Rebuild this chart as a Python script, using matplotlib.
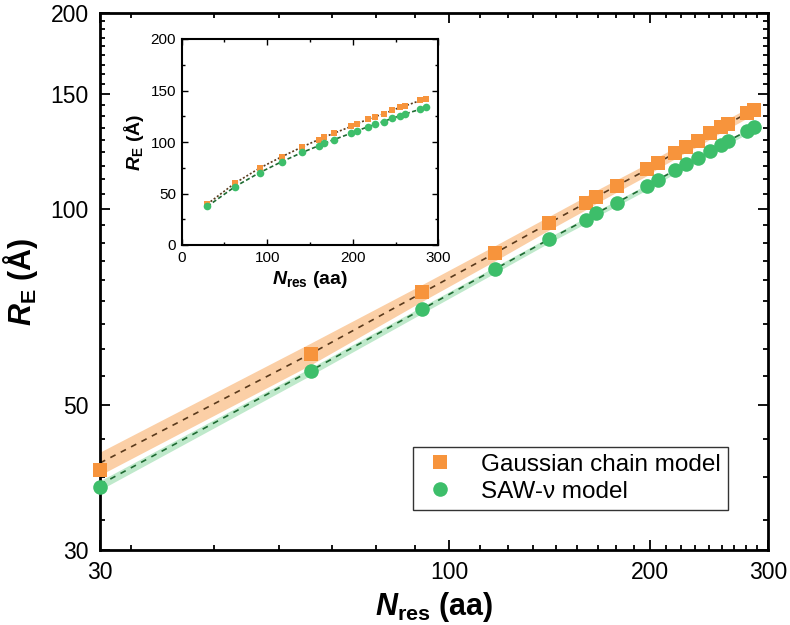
import numpy as np
import matplotlib
matplotlib.use("Agg")
import matplotlib.pyplot as plt
from matplotlib.ticker import FixedLocator, NullFormatter

plt.rcParams['font.family'] = ['Liberation Sans', 'DejaVu Sans']
plt.rcParams['mathtext.fontset'] = 'custom'
plt.rcParams['mathtext.it'] = 'Liberation Sans:italic:bold'
plt.rcParams['mathtext.rm'] = 'Liberation Sans:bold'
plt.rcParams['mathtext.bf'] = 'Liberation Sans:bold'

# data
n_res = [30, 62, 91, 117, 141, 160, 166, 178, 198, 205, 218, 226, 236, 246, 255, 261, 279, 286]
re_gauss = [39.8, 59.9, 74.6, 85.7, 95.3, 102.3, 104.5, 108.5, 115.1, 117.8,
            122.1, 124.7, 127.2, 130.7, 133.5, 135.0, 140.3, 142.0]
re_saw = [37.5, 56.5, 70.2, 80.9, 89.9, 96.3, 98.6, 102.3, 108.5, 110.9,
          114.8, 117.2, 119.9, 122.9, 125.5, 127.2, 131.8, 133.5]
# dashed guide lines and shaded ranges
line_gauss = [40.8, 60.0, 74.4, 85.6, 95.2, 102.2, 104.5, 108.6, 115.1, 117.8,
              122.0, 124.7, 127.3, 130.6, 133.5, 135.2, 140.3, 142.2]
gauss_lo = [39.1, 57.7, 72.2, 83.3, 92.9, 99.8, 102.1, 106.2, 112.7, 115.4,
            119.6, 122.3, 124.9, 128.2, 131.1, 132.8, 137.9, 139.8]
gauss_hi = [42.4, 62.3, 76.6, 87.9, 97.5, 104.6, 106.9, 111.0, 117.5, 120.2,
            124.4, 127.1, 129.7, 133.0, 135.9, 137.6, 142.7, 144.6]
line_saw = [37.8, 56.5, 70.2, 80.9, 89.9, 96.3, 98.6, 102.3, 108.5, 110.9,
            114.8, 117.2, 119.9, 122.9, 125.5, 127.2, 131.8, 133.5]
saw_lo = [37.1, 55.6, 69.2, 79.8, 88.8, 95.1, 97.4, 101.1, 107.2, 109.6,
          113.5, 115.9, 118.6, 121.6, 124.1, 125.8, 130.4, 132.1]
saw_hi = [38.3, 57.1, 70.9, 81.6, 90.6, 97.1, 99.4, 103.1, 109.3, 111.7,
          115.6, 118.0, 120.7, 123.7, 126.3, 128.0, 132.6, 134.3]

c_or = '#f7943c'
c_gr = '#3dbe6a'

fig = plt.figure(figsize=(7.9, 6.25), dpi=100)
ax = fig.add_axes([0.1266, 0.12, 0.8456, 0.8592])

ax.fill_between(n_res, gauss_lo, gauss_hi, color='#fbcfa6', lw=0, zorder=1)
ax.fill_between(n_res, saw_lo, saw_hi, color='#bfe9cb', lw=0, zorder=1)
ax.plot(n_res, line_gauss, ls=(0, (3.5, 3.5)), color='#5a3a1c', lw=1.2, zorder=2)
ax.plot(n_res, line_saw, ls=(0, (3.5, 3.5)), color='#1e6b32', lw=1.2, zorder=2)
ax.plot(n_res, re_gauss, 's', color=c_or, ms=9.5, mew=0, zorder=3, clip_on=False,
        label='Gaussian chain model')
ax.plot(n_res, re_saw, 'o', color=c_gr, ms=10.5, mew=0, zorder=3, clip_on=False,
        label='SAW-ν model')

ax.set_xscale('log')
ax.set_yscale('log')
ax.set_xlim(30, 300)
ax.set_ylim(30, 200)

ax.xaxis.set_major_locator(FixedLocator([30, 100, 200, 300]))
ax.xaxis.set_major_formatter(matplotlib.ticker.FixedFormatter(['30', '100', '200', '300']))
ax.xaxis.set_minor_locator(FixedLocator([k * 100 / 9 for k in range(3, 27) if k % 9]))
ax.xaxis.set_minor_formatter(NullFormatter())
ax.yaxis.set_major_locator(FixedLocator([30, 50, 100, 150, 200]))
ax.yaxis.set_major_formatter(matplotlib.ticker.FixedFormatter(['30', '50', '100', '150', '200']))
ax.yaxis.set_minor_locator(FixedLocator([k * 50 / 9 for k in range(6, 36) if k % 9]))
ax.yaxis.set_minor_formatter(NullFormatter())

ax.tick_params(which='both', direction='in', top=True, right=True, width=1.3, labelsize=16.5)
ax.tick_params(which='major', length=7, pad=8)
ax.tick_params(which='minor', length=3.5)
for s in ax.spines.values():
    s.set_linewidth(2)

ax.set_xlabel(r'$N_{\mathrm{res}}$ (aa)', fontsize=22, fontweight='bold', labelpad=4)
ax.set_ylabel(r'$R_{\mathrm{E}}$ (Å)', fontsize=22, fontweight='bold', labelpad=8)

leg = ax.legend(loc='lower right', bbox_to_anchor=(0.94, 0.0745), borderaxespad=0,
                fontsize=17.5, frameon=True, fancybox=False, handletextpad=0.9,
                borderpad=0.3, labelspacing=0.2, handlelength=1.6)
leg.get_frame().set_edgecolor('black')
leg.get_frame().set_linewidth(1.0)

# inset with linear axes
ins = fig.add_axes([0.230, 0.608, 0.3248, 0.3296])
ins.plot(n_res, re_gauss, ls=(0, (1.2, 1.2)), color='#5a3a1c', lw=1.2, zorder=2)
ins.plot(n_res, re_saw, ls=(0, (2.5, 1.5)), color='#1e6b32', lw=1.2, zorder=2)
ins.plot(n_res, re_gauss, 's', color=c_or, ms=5, mew=0, zorder=3)
ins.plot(n_res, re_saw, 'o', color=c_gr, ms=5.5, mew=0, zorder=3)
ins.set_xlim(0, 300)
ins.set_ylim(0, 200)
ins.set_xticks([0, 100, 200, 300])
ins.set_xticks([50, 150, 250], minor=True)
ins.set_yticks([0, 50, 100, 150, 200])
ins.set_yticks([25, 75, 125, 175], minor=True)
ins.tick_params(which='both', direction='in', top=True, right=True, width=1, labelsize=11)
ins.tick_params(which='major', length=4.5, pad=4)
ins.tick_params(which='minor', length=2.5)
for s in ins.spines.values():
    s.set_linewidth(1.5)
ins.set_xlabel(r'$N_{\mathrm{res}}$ (aa)', fontsize=14, fontweight='bold', labelpad=3)
ins.set_ylabel(r'$R_{\mathrm{E}}$ (Å)', fontsize=14, fontweight='bold', labelpad=3)

fig.savefig('out.png', dpi=100)
